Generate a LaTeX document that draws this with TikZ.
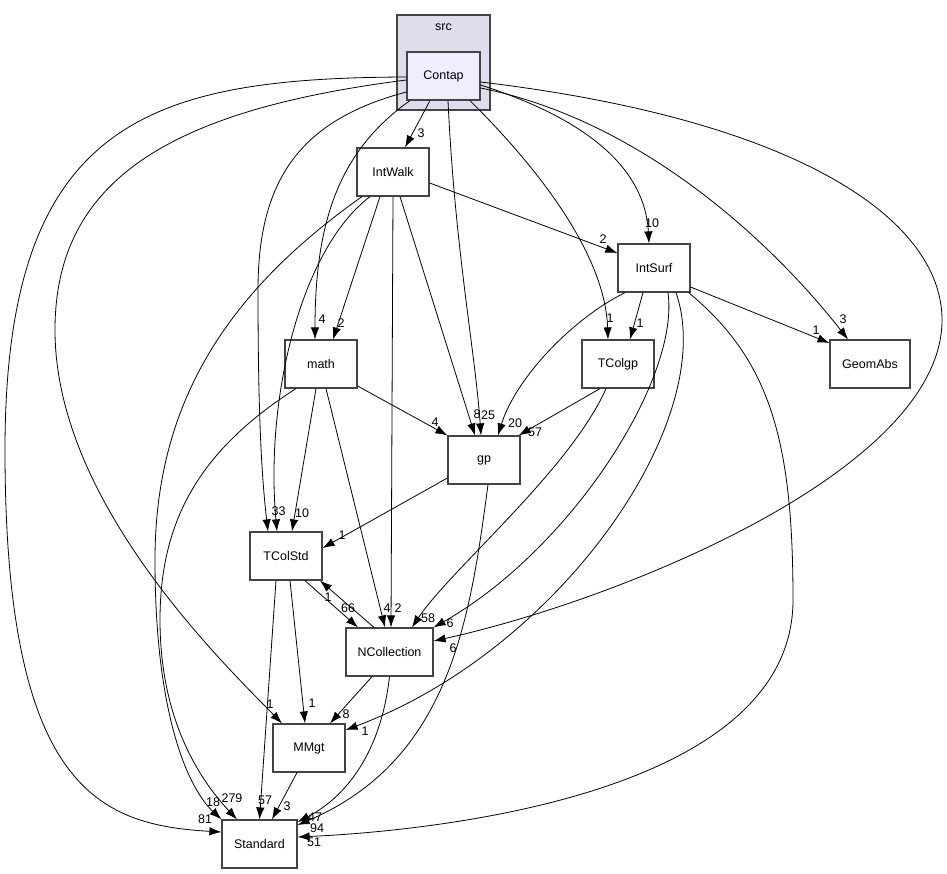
\documentclass[tikz,border=0pt]{standalone}
\usepackage{fontspec}
\setmainfont{Liberation Sans}
\usetikzlibrary{arrows.meta}
\definecolor{clusterbg}{HTML}{DDDDEE}
\definecolor{curbg}{HTML}{EEEEFF}
\definecolor{boxline}{HTML}{444444}

\begin{document}
\begin{tikzpicture}[x=1pt,y=-1pt,font=\fontsize{12.5}{14}\selectfont,
  dir/.style={draw=boxline,line width=1.2pt,fill=white,minimum width=72pt,minimum height=48pt,inner sep=0pt},
  dep/.style={-{Latex[length=12pt,width=8.5pt]},line width=0.8pt},
  num/.style={inner sep=0pt}]
  \useasboundingbox (0,0) rectangle (947,873);
  % directories
  \node[dir,fill=clusterbg,minimum width=93pt,minimum height=95pt] (src) at (443.5,62.5) {};
  \node (srcname) at (443.5,27) {src};
  \node[dir,fill=curbg,minimum width=73pt] (contap) at (443.5,76) {Contap};
  \node[dir] (intwalk) at (393,172) {IntWalk};
  \node[dir] (intsurf) at (654,268) {IntSurf};
  \node[dir] (math) at (321,364) {math};
  \node[dir] (tcolgp) at (618,364) {TColgp};
  \node[dir,minimum width=80pt] (geomabs) at (870,364) {GeomAbs};
  \node[dir] (gp) at (484,460) {gp};
  \node[dir] (tcolstd) at (286,556) {TColStd};
  \node[dir,minimum width=87pt] (ncoll) at (389.5,652) {NCollection};
  \node[dir] (mmgt) at (309,748) {MMgt};
  \node[dir,minimum width=75pt] (standard) at (259.5,844) {Standard};

  % from Contap
  \draw[dep] ([yshift=-1pt]contap.west) .. controls (150,78) and (5,120) .. (5,450) .. controls (5,790) and (100,825) .. ([yshift=12pt]standard.west);
  \draw[dep] ([yshift=-4pt]contap.west) .. controls (170,110) and (55,180) .. (55,330) .. controls (55,500) and (220,660) .. ([xshift=-27pt]mmgt.north);
  \draw[dep] ([yshift=-16pt]contap.west) .. controls (300,120) and (258,180) .. (258,290) .. controls (258,420) and (262,480) .. ([xshift=-18pt]tcolstd.north);
  \draw[dep] ([xshift=-33.5pt]contap.south) .. controls (340,150) and (315,220) .. ([xshift=-6pt]math.north);
  \draw[dep] ([xshift=-13.5pt]contap.south) -- ([xshift=12pt]intwalk.north);
  \draw[dep] ([xshift=4.5pt]contap.south) .. controls (455,250) and (475,350) .. ([xshift=-3pt]gp.north);
  \draw[dep] ([xshift=26.5pt]contap.south) .. controls (530,160) and (605,250) .. ([xshift=-10pt]tcolgp.north);
  \draw[dep] ([yshift=-9pt]contap.east) .. controls (590,120) and (645,170) .. ([xshift=-5pt]intsurf.north);
  \draw[dep] ([yshift=-12pt]contap.east) .. controls (640,120) and (770,240) .. ([xshift=-22pt]geomabs.north);
  \draw[dep] ([yshift=-6pt]contap.east) .. controls (800,120) and (942,220) .. (942,320) .. controls (942,470) and (620,600) .. ([yshift=11pt]ncoll.east);
  % from IntWalk
  \draw[dep] ([yshift=-11pt]intwalk.east) -- ([yshift=15pt]intsurf.west);
  \draw[dep] ([xshift=-13pt]intwalk.south) -- ([xshift=12pt]math.north);
  \draw[dep] (intwalk.south) -- ([xshift=1.5pt]ncoll.north);
  \draw[dep] ([xshift=-23pt]intwalk.south) .. controls (300,250) and (265,400) .. ([xshift=-9pt]tcolstd.north);
  \draw[dep] ([xshift=-31pt]intwalk.south) .. controls (230,290) and (155,400) .. (155,560) .. controls (155,720) and (190,790) .. (standard.north west);
  \draw[dep] ([xshift=7pt]intwalk.south) -- ([xshift=-9pt]gp.north);
  % from IntSurf
  \draw[dep] ([xshift=-11pt]intsurf.south) -- ([xshift=12pt]tcolgp.north);
  \draw[dep] ([yshift=-19pt]intsurf.east) -- ([yshift=21pt]geomabs.west);
  \draw[dep] ([xshift=-29pt]intsurf.south) .. controls (570,320) and (515,380) .. ([xshift=14pt]gp.north);
  \draw[dep] ([xshift=14pt]intsurf.south) .. controls (680,380) and (570,550) .. (ncoll.north east);
  \draw[dep] ([xshift=22pt]intsurf.south) .. controls (720,420) and (560,650) .. ([yshift=18pt]mmgt.east);
  \draw[dep] ([xshift=-2pt]intsurf.south east) .. controls (770,360) and (793,440) .. (793,600) .. controls (793,790) and (450,830) .. ([yshift=7pt]standard.east);
  % from math
  \draw[dep] ([yshift=-22pt]math.east) -- (gp.north west);
  \draw[dep] ([xshift=-5pt]math.south) -- ([xshift=6pt]tcolstd.north);
  \draw[dep] ([xshift=5pt]math.south) -- ([xshift=-4.5pt]ncoll.north);
  \draw[dep] ([xshift=-25pt]math.south) .. controls (200,450) and (160,520) .. (160,620) .. controls (160,720) and (200,780) .. ([xshift=-22.5pt]standard.north);
  % from TColgp
  \draw[dep] ([xshift=-18pt]tcolgp.south) -- ([xshift=-2pt]gp.north east);
  \draw[dep] ([xshift=-12pt]tcolgp.south) .. controls (570,470) and (450,570) .. ([xshift=22.5pt]ncoll.north);
  % from gp
  \draw[dep] ([yshift=-18pt]gp.west) -- ([yshift=8pt]tcolstd.east);
  \draw[dep] ([xshift=4pt]gp.south) .. controls (470,620) and (450,760) .. ([yshift=19pt]standard.east);
  % TColStd, NCollection, MMgt
  \draw[dep] ([xshift=19pt]tcolstd.south) -- ([xshift=-31.5pt]ncoll.north);
  \draw[dep] ([xshift=-15.5pt]ncoll.north) -- ([xshift=34pt]tcolstd.south);
  \draw[dep] ([xshift=4pt]tcolstd.south) -- ([xshift=-4pt]mmgt.north);
  \draw[dep] ([xshift=-10pt]tcolstd.south) -- (standard.north);
  \draw[dep] ([xshift=-17.5pt]ncoll.south) -- ([xshift=21pt]mmgt.north);
  \draw[dep] (ncoll.south) .. controls (380,760) and (340,800) .. ([yshift=22pt]standard.east);
  \draw[dep] ([xshift=-12pt]mmgt.south) -- ([xshift=12.5pt]standard.north);

  % edge counts
  \node[num] (c1) at (421,133) {3};
  \node[num] (c2) at (652,223) {10};
  \node[num] (c3) at (843,319) {3};
  \node[num] (c4) at (610,318) {1};
  \node[num] (c5) at (488,415) {25};
  \node[num] (c6) at (477,414) {8};
  \node[num] (c7) at (322,319) {4};
  \node[num] (c8) at (341,323) {2};
  \node[num] (c9) at (275,511) {3};
  \node[num] (c10) at (282,511) {3};
  \node[num] (c11) at (302,513) {10};
  \node[num] (c12) at (603,239) {2};
  \node[num] (c13) at (640,323) {1};
  \node[num] (c14) at (816,330) {1};
  \node[num] (c15) at (515,423) {20};
  \node[num] (c16) at (435,422) {4};
  \node[num] (c17) at (535,432) {57};
  \node[num] (c18) at (342,535) {1};
  \node[num] (c19) at (328,597) {1};
  \node[num] (c20) at (348,608) {66};
  \node[num] (c21) at (387,608) {4};
  \node[num] (c22) at (398,608) {2};
  \node[num] (c23) at (428,618) {58};
  \node[num] (c24) at (450,623) {6};
  \node[num] (c25) at (453,648) {6};
  \node[num] (c26) at (270,704) {1};
  \node[num] (c27) at (312,703) {1};
  \node[num] (c28) at (346,714) {8};
  \node[num] (c29) at (365,731) {1};
  \node[num] (c30) at (205,819) {81};
  \node[num] (c31) at (213,802) {18};
  \node[num] (c32) at (232,798) {279};
  \node[num] (c33) at (265,800) {57};
  \node[num] (c34) at (287,806) {3};
  \node[num] (c35) at (315,817) {47};
  \node[num] (c36) at (317,828) {94};
  \node[num] (c37) at (314,842) {51};
\end{tikzpicture}
\end{document}
